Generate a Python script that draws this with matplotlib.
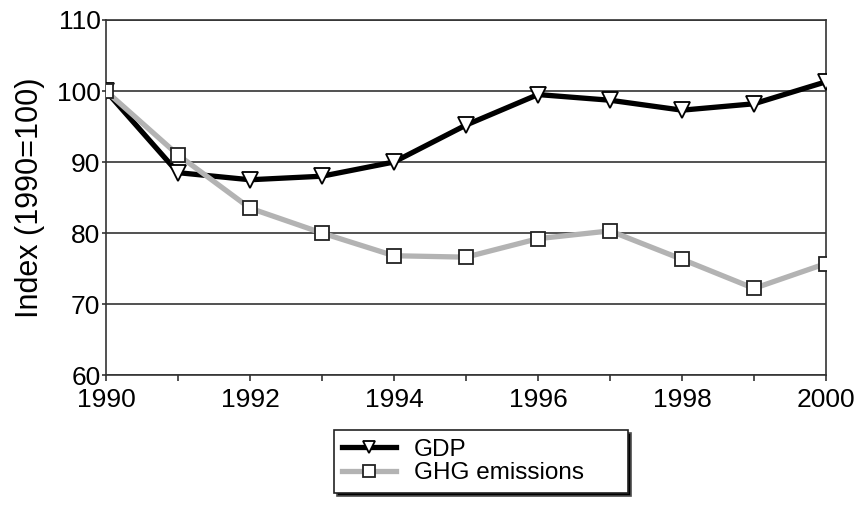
import matplotlib.pyplot as plt
from matplotlib.ticker import MultipleLocator

plt.rcParams['font.family'] = ['Liberation Sans', 'DejaVu Sans']

years = [1990, 1991, 1992, 1993, 1994, 1995, 1996, 1997, 1998, 1999, 2000]
gdp = [100, 88.5, 87.5, 88.0, 90.0, 95.2, 99.5, 98.7, 97.3, 98.2, 101.3]
ghg = [100, 91.0, 83.5, 80.0, 76.8, 76.6, 79.2, 80.3, 76.3, 72.2, 75.7]

fig = plt.figure(figsize=(8.65, 5.05), dpi=100)
ax = fig.add_axes([0.1225, 0.2574, 0.8324, 0.7030])

ax.plot(years, gdp, color='black', lw=3.8, marker='v', markersize=11,
        markerfacecolor='white', markeredgecolor='black', markeredgewidth=1.3,
        label='GDP', zorder=3)
ax.plot(years, ghg, color='#b3b3b3', lw=3.8, marker='s', markersize=10,
        markerfacecolor='white', markeredgecolor='#222222', markeredgewidth=1.3,
        label='GHG emissions', zorder=4)

ax.set_xlim(1990, 2000)
ax.set_ylim(60, 110)
ax.xaxis.set_major_locator(MultipleLocator(2))
ax.xaxis.set_minor_locator(MultipleLocator(1))
ax.yaxis.set_major_locator(MultipleLocator(10))
ax.grid(axis='y', color='#333333', lw=1.2)
ax.set_axisbelow(True)
for s in ax.spines.values():
    s.set_color('#333333')
    s.set_linewidth(1.2)
ax.tick_params(axis='both', which='major', direction='out', length=4, width=1.2,
               labelsize=19, color='#333333', pad=1)
ax.tick_params(axis='y', which='major', length=3)
ax.tick_params(axis='x', which='major', pad=5)
ax.tick_params(axis='x', which='minor', direction='out', length=4, width=1.2,
               color='#333333')
ax.set_ylabel('Index (1990=100)', fontsize=22, labelpad=8)

leg = fig.legend(loc='upper left', bbox_to_anchor=(0.386, 0.1485, 0.34, 0.0),
                 mode='expand', borderaxespad=0, fontsize=17.5, frameon=True,
                 fancybox=False, edgecolor='#222222', handlelength=2.2,
                 handletextpad=0.75, borderpad=0.35, labelspacing=0.08,
                 markerscale=0.8,
                 shadow={'facecolor': 'black', 'alpha': 1})
leg.get_frame().set_linewidth(1.2)

fig.savefig('out.png', dpi=100)
